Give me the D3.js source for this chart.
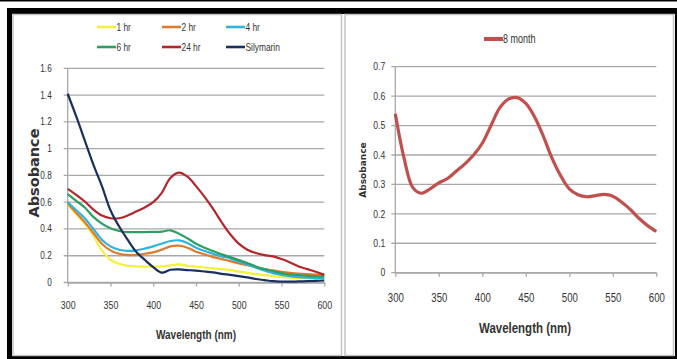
<!DOCTYPE html>
<html>
<head>
<meta charset="utf-8">
<script src="https://cdn.jsdelivr.net/npm/d3@7"></script>
<style>
  body { margin: 0; background: #fff; }
  svg { display: block; }
  text { font-family: "Liberation Sans Narrow", "Arial Narrow", "Liberation Sans", sans-serif; fill: #333; }
</style>
</head>
<body>
<div id="chart"></div>
<script>
// wavelengths (nm) shared by all curves
const wavelengths = [300, 310, 320, 330, 340, 350, 360, 370, 380, 390, 400, 410, 420, 430, 440, 450,
  460, 470, 480, 490, 500, 510, 520, 530, 540, 550, 560, 570, 580, 590, 600];

// left chart series
const hr1 = [0.585, 0.51, 0.44, 0.35, 0.24, 0.17, 0.14, 0.125, 0.12, 0.118, 0.118, 0.12, 0.128, 0.135, 0.125, 0.118,
  0.112, 0.105, 0.10, 0.094, 0.081, 0.072, 0.062, 0.055, 0.048, 0.04, 0.036, 0.034, 0.033, 0.032, 0.032];
const hr2 = [0.59, 0.52, 0.45, 0.37, 0.29, 0.24, 0.215, 0.205, 0.205, 0.215, 0.225, 0.245, 0.27, 0.275, 0.26, 0.23,
  0.21, 0.19, 0.175, 0.16, 0.143, 0.13, 0.115, 0.10, 0.09, 0.08, 0.072, 0.066, 0.062, 0.059, 0.057];
const hr4 = [0.60, 0.54, 0.48, 0.40, 0.32, 0.27, 0.245, 0.236, 0.24, 0.253, 0.27, 0.29, 0.31, 0.315, 0.295, 0.26,
  0.235, 0.215, 0.195, 0.18, 0.155, 0.135, 0.11, 0.09, 0.07, 0.057, 0.048, 0.04, 0.036, 0.033, 0.032];
const hr6 = [0.66, 0.61, 0.56, 0.49, 0.44, 0.405, 0.385, 0.377, 0.377, 0.377, 0.378, 0.38, 0.39, 0.365, 0.33, 0.29,
  0.26, 0.235, 0.21, 0.19, 0.167, 0.145, 0.12, 0.10, 0.085, 0.07, 0.06, 0.055, 0.05, 0.047, 0.045];
const hr24 = [0.70, 0.655, 0.605, 0.545, 0.50, 0.48, 0.48, 0.50, 0.53, 0.56, 0.60, 0.67, 0.78, 0.82, 0.79, 0.72,
  0.64, 0.55, 0.45, 0.36, 0.29, 0.245, 0.22, 0.205, 0.195, 0.175, 0.15, 0.12, 0.10, 0.08, 0.057];
const silymarin = [1.41, 1.24, 1.06, 0.88, 0.72, 0.54, 0.42, 0.32, 0.23, 0.17, 0.115, 0.074, 0.095, 0.098, 0.093, 0.088,
  0.082, 0.075, 0.065, 0.057, 0.048, 0.038, 0.026, 0.018, 0.01, 0.007, 0.006, 0.008, 0.01, 0.012, 0.015];

// right chart series
const month8 = [0.54, 0.39, 0.29, 0.27, 0.285, 0.305, 0.32, 0.345, 0.37, 0.40, 0.44, 0.50, 0.56, 0.59, 0.595, 0.575,
  0.53, 0.465, 0.39, 0.33, 0.285, 0.265, 0.258, 0.262, 0.266, 0.26, 0.24, 0.215, 0.185, 0.16, 0.14];

const leftNames = ["1 hr", "2 hr", "4 hr", "6 hr", "24 hr", "Silymarin"];
const leftValues = [hr1, hr2, hr4, hr6, hr24, silymarin];
const leftColors = ["#f4f03c", "#df7a2c", "#2fb2dd", "#2f9e62", "#b3262c", "#1b2f5f"];

const xTicks = [300, 350, 400, 450, 500, 550, 600];
const leftYTicks = [0, 0.2, 0.4, 0.6, 0.8, 1, 1.2, 1.4, 1.6];
const rightYTicks = [0, 0.1, 0.2, 0.3, 0.4, 0.5, 0.6, 0.7];

const W = 677, H = 359;
const svg = d3.select("#chart").append("svg").attr("width", W).attr("height", H);

// squeeze text horizontally, the original uses a narrow font
function condense(sel, k) {
  sel.each(function () {
    const len = this.getComputedTextLength();
    this.setAttribute("textLength", len * k);
    this.setAttribute("lengthAdjust", "spacingAndGlyphs");
  });
}

// frame
svg.append("rect").attr("x", 0).attr("y", 0).attr("width", W).attr("height", 1.5).attr("fill", "#000");
svg.append("rect").attr("x", 7).attr("y", 8).attr("width", W - 7).attr("height", 6).attr("fill", "#000");
svg.append("rect").attr("x", 7).attr("y", 8).attr("width", 5).attr("height", H - 8).attr("fill", "#000");
svg.append("rect").attr("x", 675).attr("y", 8).attr("width", 2).attr("height", H - 8).attr("fill", "#000");
svg.append("rect").attr("x", 7).attr("y", 356).attr("width", W - 7).attr("height", 3).attr("fill", "#000");

// panel borders
svg.append("rect").attr("x", 13).attr("y", 14.5).attr("width", 328.5).attr("height", 341)
  .attr("fill", "#fff").attr("stroke", "#c4c4c4").attr("stroke-width", 1.5);
svg.append("rect").attr("x", 345).attr("y", 14.5).attr("width", 328.5).attr("height", 341)
  .attr("fill", "#fff").attr("stroke", "#c4c4c4").attr("stroke-width", 1.5);

function drawAxes(g, x, y, yTicks, opt) {
  const [x0, x1] = x.range();
  const [y0] = y.range();

  g.append("g")
    .selectAll("line")
    .data(yTicks)
    .join("line")
    .attr("x1", x0 - 4).attr("x2", x1)
    .attr("y1", d => y(d)).attr("y2", d => y(d))
    .attr("stroke", "#a8a8a8")
    .attr("stroke-width", 1.3);

  g.append("line")
    .attr("x1", x0).attr("x2", x0)
    .attr("y1", y(yTicks[yTicks.length - 1])).attr("y2", y0)
    .attr("stroke", "#a8a8a8").attr("stroke-width", 1.3);

  const xAxis = g.append("g")
    .attr("transform", `translate(0,${y0})`)
    .call(d3.axisBottom(x).tickValues(xTicks).tickSize(4).tickPadding(opt.xPad).tickSizeOuter(0));
  xAxis.select(".domain").attr("stroke", "#a8a8a8").attr("stroke-width", 1.3);
  xAxis.selectAll(".tick line").attr("stroke", "#a8a8a8").attr("stroke-width", 1.3);
  xAxis.selectAll(".tick text").attr("font-size", opt.xSize).attr("fill", "#333")
    .attr("font-family", "Liberation Sans Narrow, Arial Narrow, Liberation Sans, sans-serif")
    .call(condense, 0.8);

  g.append("g")
    .selectAll("text")
    .data(yTicks)
    .join("text")
    .attr("x", x0 - opt.yGap)
    .attr("y", d => y(d))
    .attr("dy", "0.35em")
    .attr("text-anchor", "end")
    .attr("font-size", opt.ySize)
    .text(d => d)
    .call(condense, 0.82);
}

// ---------- left chart ----------
const xL = d3.scaleLinear().domain([300, 600]).range([67.7, 324.3]);
const yL = d3.scaleLinear().domain([0, 1.6]).range([282.5, 68.3]);
const left = svg.append("g");
drawAxes(left, xL, yL, leftYTicks, { xPad: 15, xSize: 11, yGap: 16, ySize: 10 });

const lineL = d3.line()
  .x((d, i) => xL(wavelengths[i]))
  .y(d => yL(d))
  .curve(d3.curveCatmullRom.alpha(0.5));

left.append("g")
  .attr("fill", "none")
  .selectAll("path")
  .data(leftValues)
  .join("path")
  .attr("d", d => lineL(d))
  .attr("stroke", (d, i) => leftColors[i])
  .attr("stroke-width", 2.2)
  .attr("stroke-linejoin", "round");

// legend
const legendL = left.append("g")
  .selectAll("g")
  .data(leftNames)
  .join("g")
  .attr("transform", (d, i) => `translate(${[97, 162, 226][i % 3]},${i < 3 ? 27 : 47})`);
legendL.append("line")
  .attr("x1", 0).attr("x2", 19).attr("y1", 0).attr("y2", 0)
  .attr("stroke", (d, i) => leftColors[i])
  .attr("stroke-width", 2.6);
legendL.append("text")
  .attr("x", 19.5).attr("dy", "0.35em")
  .attr("font-size", 11)
  .text(d => d)
  .call(condense, 0.76);

left.append("text")
  .attr("x", 196).attr("y", 339)
  .attr("text-anchor", "middle")
  .attr("font-size", 12.5)
  .attr("fill", "#222")
  .attr("textLength", 80)
  .attr("lengthAdjust", "spacingAndGlyphs")
  .style("font-weight", "bold")
  .text("Wavelength (nm)");

left.append("text")
  .attr("transform", "translate(39,173) rotate(-90)")
  .attr("text-anchor", "middle")
  .style("font-family", "DejaVu Sans, sans-serif")
  .attr("font-size", 14.5)
  .style("font-weight", "bold")
  .attr("fill", "#222")
  .text("Absobance");

// ---------- right chart ----------
const xR = d3.scaleLinear().domain([300, 600]).range([395.3, 656.3]);
const yR = d3.scaleLinear().domain([0, 0.7]).range([272.7, 66.7]);
const right = svg.append("g");
drawAxes(right, xR, yR, rightYTicks, { xPad: 17, xSize: 12, yGap: 10, ySize: 10.5 });

const lineR = d3.line()
  .x((d, i) => xR(wavelengths[i]))
  .y(d => yR(d))
  .curve(d3.curveCatmullRom.alpha(0.5));

right.append("path")
  .datum(month8)
  .attr("d", lineR)
  .attr("fill", "none")
  .attr("stroke", "#c0504d")
  .attr("stroke-width", 3.2)
  .attr("stroke-linejoin", "round");

right.append("line")
  .attr("x1", 484).attr("x2", 503).attr("y1", 39).attr("y2", 39)
  .attr("stroke", "#c0504d").attr("stroke-width", 4);
right.append("text")
  .attr("x", 503).attr("y", 39).attr("dy", "0.35em")
  .attr("font-size", 12)
  .text("8 month")
  .call(condense, 0.75);

right.append("text")
  .attr("x", 525).attr("y", 333)
  .attr("text-anchor", "middle")
  .attr("font-size", 15.5)
  .attr("fill", "#222")
  .attr("textLength", 92)
  .attr("lengthAdjust", "spacingAndGlyphs")
  .style("font-weight", "bold")
  .text("Wavelength (nm)");

right.append("text")
  .attr("transform", "translate(366,170) rotate(-90)")
  .attr("text-anchor", "middle")
  .style("font-family", "DejaVu Sans, sans-serif")
  .attr("font-size", 9)
  .style("font-weight", "bold")
  .attr("fill", "#222")
  .text("Absobance");
</script>
</body>
</html>
